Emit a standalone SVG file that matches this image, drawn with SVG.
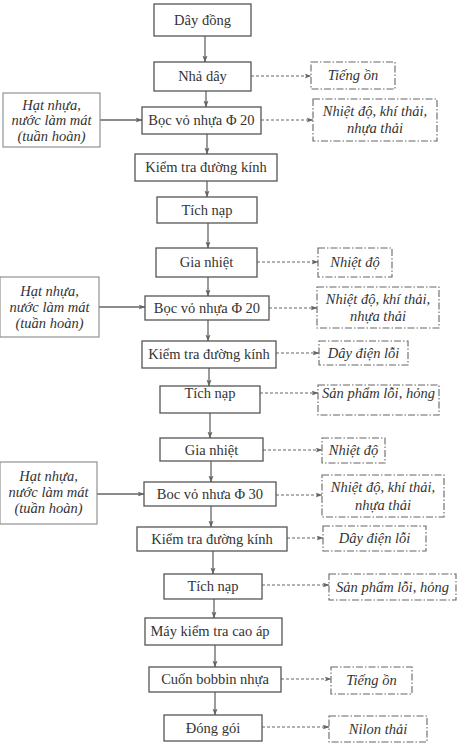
<svg xmlns="http://www.w3.org/2000/svg" width="464" height="751" viewBox="0 0 464 751">
<style>
.p{fill:#fff;stroke:#555;stroke-width:1.3}
.o{fill:#fff;stroke:#666;stroke-width:1.1;stroke-dasharray:7 2 1.5 2}
.i{fill:#fff;stroke:#888;stroke-width:1.1}
.t{font-family:"Liberation Serif","Times New Roman",serif;font-size:14.5px;fill:#333;text-anchor:middle}
.it{font-style:italic}
.s{stroke:#666;stroke-width:1.3;fill:none;marker-end:url(#a)}
.d{stroke:#666;stroke-width:1.1;fill:none;stroke-dasharray:3 2;marker-end:url(#a)}
</style>
<defs>
<marker id="a" viewBox="0 0 10 10" refX="9" refY="5" markerWidth="7" markerHeight="7" markerUnits="userSpaceOnUse" orient="auto">
<path d="M0,1.5 L10,5 L0,8.5 L2,5 Z" fill="#666"/>
</marker>
</defs>
<rect width="464" height="751" fill="#fff"/>
<g id="connectors">
<line class="s" x1="205" y1="36" x2="205" y2="62"/>
<line class="d" x1="251" y1="76" x2="311" y2="76"/>
<line class="s" x1="206" y1="91" x2="206" y2="107"/>
<line class="s" x1="100" y1="120" x2="142" y2="120"/>
<line class="d" x1="261" y1="120" x2="313" y2="120"/>
<line class="s" x1="207" y1="134" x2="207" y2="154"/>
<line class="s" x1="207" y1="181" x2="207" y2="197"/>
<line class="s" x1="208" y1="223" x2="208" y2="248"/>
<line class="d" x1="257" y1="262" x2="318" y2="262"/>
<line class="s" x1="208" y1="277" x2="208" y2="296"/>
<line class="s" x1="99" y1="307" x2="145" y2="307"/>
<line class="d" x1="269" y1="308" x2="317" y2="308"/>
<line class="s" x1="208" y1="320" x2="208" y2="341"/>
<line class="d" x1="276" y1="353" x2="319" y2="353"/>
<line class="s" x1="209" y1="368" x2="209" y2="386"/>
<line class="d" x1="260" y1="393" x2="318" y2="393"/>
<line class="s" x1="210" y1="413" x2="210" y2="438"/>
<line class="d" x1="263" y1="450" x2="322" y2="450"/>
<line class="s" x1="211" y1="461" x2="211" y2="482"/>
<line class="s" x1="97" y1="494" x2="144" y2="494"/>
<line class="d" x1="276" y1="495" x2="322" y2="495"/>
<line class="s" x1="211" y1="506" x2="211" y2="527"/>
<line class="d" x1="287" y1="538" x2="323" y2="538"/>
<line class="s" x1="213" y1="551" x2="213" y2="574"/>
<line class="d" x1="262" y1="585" x2="329" y2="585"/>
<line class="s" x1="214" y1="599" x2="214" y2="618"/>
<line class="s" x1="215" y1="645" x2="215" y2="667"/>
<line class="d" x1="281" y1="679" x2="331" y2="679"/>
<line class="s" x1="215" y1="692" x2="215" y2="715"/>
<line class="d" x1="262" y1="727" x2="329" y2="727"/>
</g>
<g id="n1"><rect class="p" x="154" y="4" width="97" height="32"/><text class="t" x="202.5" y="25">Dây đồng</text></g>
<g id="n2"><rect class="p" x="154" y="62" width="97" height="29"/><text class="t" x="202.5" y="81">Nhả dây</text></g>
<g id="o2"><rect class="o" x="311" y="62" width="84" height="27"/><text class="t it" x="353" y="80">Tiếng ồn</text></g>
<g id="i3"><rect class="i" x="3" y="93" width="97" height="54"/><text class="t it" x="51.5" y="110">Hạt nhựa,</text><text class="t it" x="51.5" y="125">nước làm mát</text><text class="t it" x="51.5" y="141">(tuần hoàn)</text></g>
<g id="n3"><rect class="p" x="142" y="107" width="119" height="27"/><text class="t" x="201.5" y="125">Bọc vỏ nhựa Φ 20</text></g>
<g id="o3"><rect class="o" x="313" y="99" width="124" height="42"/><text class="t it" x="375" y="116">Nhiệt độ, khí thải,</text><text class="t it" x="375" y="133">nhựa thải</text></g>
<g id="n4"><rect class="p" x="135" y="154" width="142" height="27"/><text class="t" x="206" y="172">Kiểm tra đường kính</text></g>
<g id="n5"><rect class="p" x="157" y="197" width="100" height="26"/><text class="t" x="207" y="215">Tích nạp</text></g>
<g id="n6"><rect class="p" x="156" y="248" width="101" height="29"/><text class="t" x="206.5" y="267">Gia nhiệt</text></g>
<g id="o6"><rect class="o" x="318" y="248" width="74" height="29"/><text class="t it" x="355" y="267">Nhiệt độ</text></g>
<g id="i7"><rect class="i" x="0" y="277" width="99" height="60"/><text class="t it" x="49.5" y="296">Hạt nhựa,</text><text class="t it" x="49.5" y="312">nước làm mát</text><text class="t it" x="49.5" y="328">(tuần hoàn)</text></g>
<g id="n7"><rect class="p" x="145" y="296" width="124" height="24"/><text class="t" x="207" y="313">Bọc vỏ nhựa Φ 20</text></g>
<g id="o7"><rect class="o" x="317" y="287" width="122" height="41"/><text class="t it" x="378" y="304">Nhiệt độ, khí thải,</text><text class="t it" x="378" y="321">nhựa thải</text></g>
<g id="n8"><rect class="p" x="142" y="341" width="134" height="27"/><text class="t" x="209" y="359">Kiểm tra đường kính</text></g>
<g id="o8"><rect class="o" x="319" y="341" width="89" height="24"/><text class="t it" x="363.5" y="358">Dây điện lỗi</text></g>
<g id="n9"><rect class="p" x="160" y="386" width="100" height="27"/><text class="t" x="210" y="398">Tích nạp</text></g>
<g id="o9"><rect class="o" x="318" y="385" width="121" height="30"/><text class="t it" x="378.5" y="398">Sản phẩm lỗi, hỏng</text></g>
<g id="n10"><rect class="p" x="160" y="438" width="103" height="23"/><text class="t" x="211.5" y="455">Gia nhiệt</text></g>
<g id="o10"><rect class="o" x="322" y="438" width="63" height="25"/><text class="t it" x="353.5" y="455">Nhiệt độ</text></g>
<g id="i11"><rect class="i" x="0" y="462" width="97" height="62"/><text class="t it" x="48.5" y="481">Hạt nhựa,</text><text class="t it" x="48.5" y="497">nước làm mát</text><text class="t it" x="48.5" y="513">(tuần hoàn)</text></g>
<g id="n11"><rect class="p" x="144" y="482" width="132" height="24"/><text class="t" x="210" y="499">Boc vỏ nhưa Φ 30</text></g>
<g id="o11"><rect class="o" x="322" y="475" width="122" height="42"/><text class="t it" x="383" y="492">Nhiệt độ, khí thải,</text><text class="t it" x="383" y="510">nhựa thải</text></g>
<g id="n12"><rect class="p" x="137" y="527" width="150" height="24"/><text class="t" x="212" y="544">Kiểm tra đường kính</text></g>
<g id="o12"><rect class="o" x="323" y="526" width="103" height="25"/><text class="t it" x="374.5" y="543">Dây điện lỗi</text></g>
<g id="n13"><rect class="p" x="164" y="574" width="98" height="25"/><text class="t" x="213" y="591">Tích nạp</text></g>
<g id="o13"><rect class="o" x="329" y="574" width="127" height="26"/><text class="t it" x="392.5" y="592">Sản phẩm lỗi, hỏng</text></g>
<g id="n14"><rect class="p" x="145" y="618" width="137" height="27"/><text class="t" x="210" y="636">Máy kiểm tra cao áp</text></g>
<g id="n15"><rect class="p" x="149" y="667" width="132" height="25"/><text class="t" x="215" y="684">Cuốn bobbin nhựa</text></g>
<g id="o15"><rect class="o" x="331" y="667" width="81" height="27"/><text class="t it" x="371.5" y="685">Tiếng ồn</text></g>
<g id="n16"><rect class="p" x="164" y="715" width="98" height="26"/><text class="t" x="213" y="733">Đóng gói</text></g>
<g id="o16"><rect class="o" x="329" y="716" width="98" height="26"/><text class="t it" x="378" y="734">Nilon thải</text></g>
</svg>
